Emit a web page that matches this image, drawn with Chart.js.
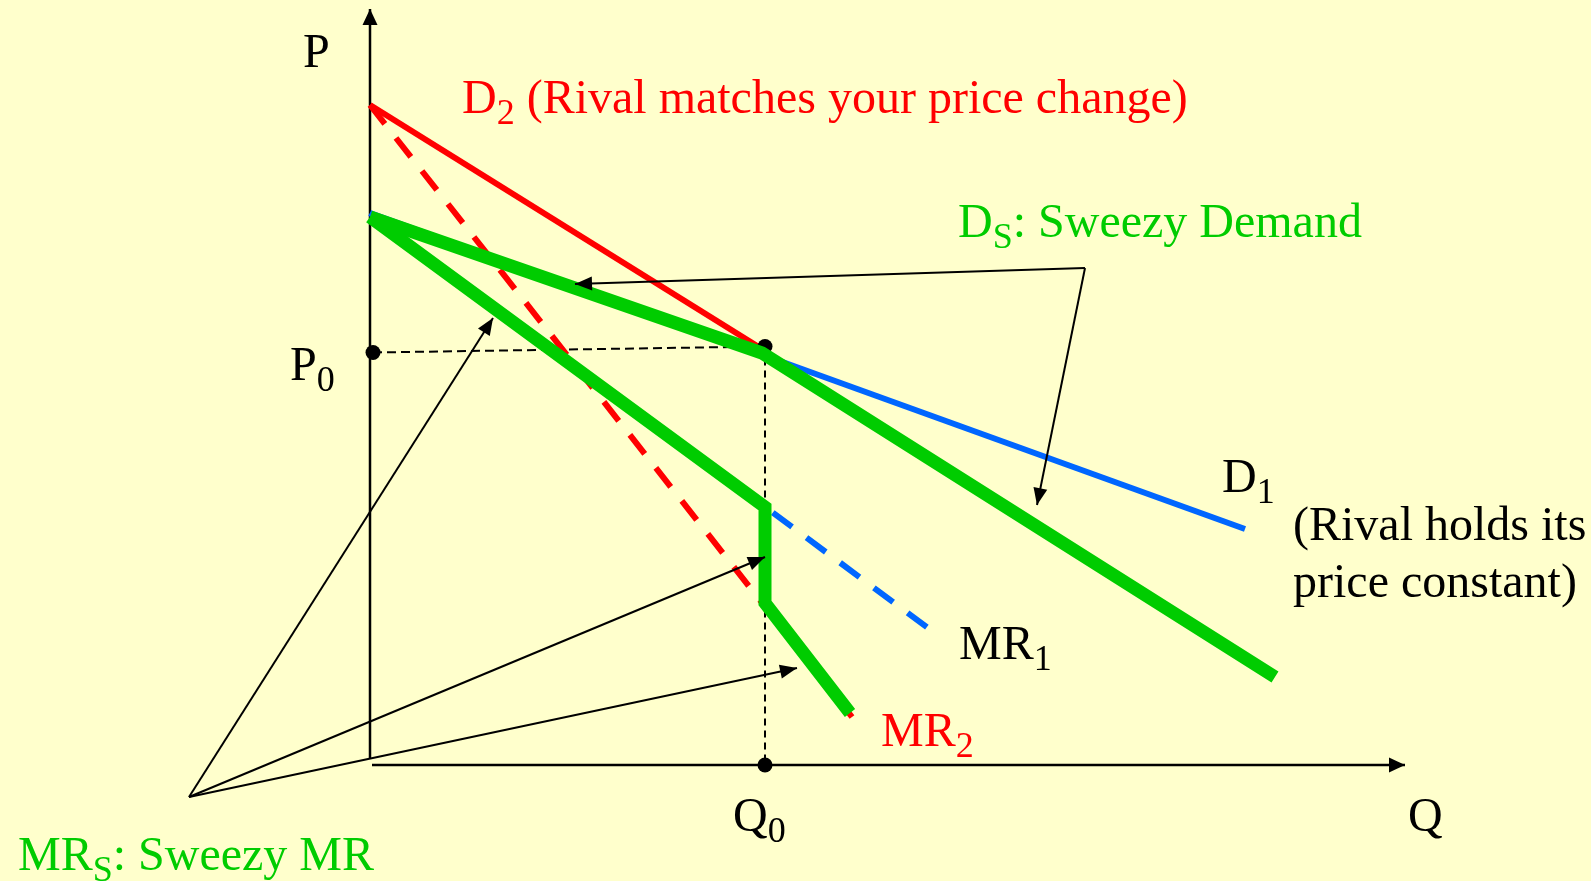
<!DOCTYPE html>
<html>
<head>
<meta charset="utf-8">
<title>Sweezy kinked demand</title>
<script src="https://cdn.jsdelivr.net/npm/chart.js@4.4.0/dist/chart.umd.min.js"></script>
<style>
    html, body { margin: 0; padding: 0; background: #ffffcc; overflow: hidden; }
    canvas { display: block; }
</style>
</head>
<body>
<canvas id="sweezy-chart" width="1591" height="881"></canvas>
<script>
// Quantity (x) and price (y) points, one array per curve
const pAxis = [{x: 0, y: 0.6}, {x: 0, y: 75.6}];
const qAxis = [{x: 0.2, y: 0}, {x: 103.5, y: 0}];
const d2Demand = [{x: 0, y: 66.0}, {x: 39.2, y: 41.6}];
const mr2Curve = [{x: 0, y: 66.0}, {x: 48.2, y: 4.8}];
const d1Demand = [{x: 0, y: 55.2}, {x: 87.5, y: 23.6}];
const mr1Curve = [{x: 0, y: 55.2}, {x: 56.2, y: 13.4}];
const sweezyDemand = [{x: 0, y: 54.8}, {x: 39.2, y: 41.2}, {x: 90.5, y: 8.8}];
const sweezyMR = [{x: 0, y: 54.8}, {x: 39.5, y: 25.8}, {x: 39.5, y: 16.2}, {x: 48.0, y: 5.2}];

// P0 / Q0 guides and the marked points
const p0Guide = [{x: 0.3, y: 41.25}, {x: 39.5, y: 41.85}];
const q0Guide = [{x: 39.5, y: 41.85}, {x: 39.5, y: 0}];
const kinkPoint = [{x: 39.5, y: 41.85}];
const axisPoints = [{x: 0.3, y: 41.25}, {x: 39.5, y: 0}];

// Pointer arrows from the two green captions
const demandPointers = [
    [{x: 71.5, y: 49.7}, {x: 20.5, y: 48.1}],
    [{x: 71.5, y: 49.7}, {x: 66.7, y: 26.0}]
];
const mrPointers = [
    [{x: -18.1, y: -3.2}, {x: 12.3, y: 44.7}],
    [{x: -18.1, y: -3.2}, {x: 39.5, y: 20.8}],
    [{x: -18.1, y: -3.2}, {x: 42.7, y: 9.7}]
];

// Captions: main text, subscript, trailing text, anchored in chart units
const curveLabels = [
    {text: 'P', x: -6.7, y: 69.8, color: '#000000'},
    {text: 'D', sub: '2', tail: ' (Rival matches your price change)', x: 9.2, y: 65.2, color: '#ff0000'},
    {text: 'D', sub: 'S', tail: ': Sweezy Demand', x: 58.8, y: 52.8, color: '#00cc00'},
    {text: 'P', sub: '0', x: -8.0, y: 38.5, color: '#000000'},
    {text: 'D', sub: '1', x: 85.2, y: 27.3, color: '#000000'},
    {text: '(Rival holds its', x: 92.3, y: 22.5, color: '#000000'},
    {text: 'price constant)', x: 92.3, y: 16.8, color: '#000000'},
    {text: 'MR', sub: '1', x: 58.9, y: 10.6, color: '#000000'},
    {text: 'MR', sub: '2', x: 51.1, y: 1.9, color: '#ff0000'},
    {text: 'Q', sub: '0', x: 36.3, y: -6.6, color: '#000000'},
    {text: 'Q', x: 103.8, y: -6.6, color: '#000000'},
    {text: 'MR', sub: 'S', tail: ': Sweezy MR', x: -35.2, y: -10.5, color: '#00cc00'}
];

const RED = '#ff0000';
const BLUE = '#0066ff';
const GREEN = '#00cc00';
const BLACK = '#000000';
const SERIF = '"Liberation Serif", "Times New Roman", serif';

function lineSet(data, color, width, order, extra) {
    return Object.assign({
        data: data,
        showLine: true,
        borderColor: color,
        borderWidth: width,
        pointRadius: 0,
        pointHoverRadius: 0,
        fill: false,
        tension: 0,
        order: order
    }, extra || {});
}

function dotSet(data, order) {
    return {
        data: data,
        showLine: false,
        pointRadius: 7.5,
        pointHoverRadius: 7.5,
        pointBackgroundColor: BLACK,
        pointBorderWidth: 0,
        order: order
    };
}

const datasets = [
    lineSet(pAxis, BLACK, 2.5, 20, {arrowHead: {len: 16, half: 7.5}}),
    lineSet(qAxis, BLACK, 2.5, 20, {arrowHead: {len: 16, half: 7.5}}),
    lineSet(p0Guide, BLACK, 2, 19, {borderDash: [9, 5]}),
    lineSet(q0Guide, BLACK, 2, 19, {borderDash: [7, 5]}),
    lineSet(d2Demand, RED, 6, 18),
    lineSet(mr2Curve, RED, 6, 18, {borderDash: [24, 18]}),
    lineSet(d1Demand, BLUE, 6, 17),
    lineSet(mr1Curve, BLUE, 6, 17, {borderDash: [24, 18], borderDashOffset: 2}),
    dotSet(kinkPoint, 16),
    lineSet(sweezyDemand, GREEN, 13, 15),
    lineSet(sweezyMR, GREEN, 13, 15),
    dotSet(axisPoints, 10)
];
demandPointers.concat(mrPointers).forEach(function(seg) {
    datasets.push(lineSet(seg, BLACK, 2, 12, {arrowHead: {len: 17, half: 7}}));
});

// Filled arrowheads at the last point of flagged lines
const arrowHeads = {
    id: 'arrowHeads',
    afterDatasetsDraw: function(chart) {
        const ctx = chart.ctx;
        const xs = chart.scales.x;
        const ys = chart.scales.y;
        chart.data.datasets.forEach(function(ds) {
            if (!ds.arrowHead) return;
            const n = ds.data.length;
            const x1 = xs.getPixelForValue(ds.data[n - 2].x);
            const y1 = ys.getPixelForValue(ds.data[n - 2].y);
            const x2 = xs.getPixelForValue(ds.data[n - 1].x);
            const y2 = ys.getPixelForValue(ds.data[n - 1].y);
            const a = Math.atan2(y2 - y1, x2 - x1);
            const len = ds.arrowHead.len;
            const half = ds.arrowHead.half;
            const bx = x2 - Math.cos(a) * len;
            const by = y2 - Math.sin(a) * len;
            ctx.save();
            ctx.fillStyle = ds.borderColor;
            ctx.beginPath();
            ctx.moveTo(x2, y2);
            ctx.lineTo(bx - Math.sin(a) * half, by + Math.cos(a) * half);
            ctx.lineTo(bx + Math.sin(a) * half, by - Math.cos(a) * half);
            ctx.closePath();
            ctx.fill();
            ctx.restore();
        });
    }
};

// Captions with subscripts, placed through the chart scales
const captions = {
    id: 'captions',
    afterDraw: function(chart) {
        const ctx = chart.ctx;
        const xs = chart.scales.x;
        const ys = chart.scales.y;
        ctx.save();
        ctx.textAlign = 'left';
        ctx.textBaseline = 'alphabetic';
        curveLabels.forEach(function(lab) {
            let px = xs.getPixelForValue(lab.x);
            const py = ys.getPixelForValue(lab.y);
            ctx.fillStyle = lab.color;
            ctx.font = '48px ' + SERIF;
            ctx.fillText(lab.text, px, py);
            px += ctx.measureText(lab.text).width;
            if (lab.sub) {
                ctx.font = '36px ' + SERIF;
                ctx.fillText(lab.sub, px, py + 11);
                px += ctx.measureText(lab.sub).width;
            }
            if (lab.tail) {
                ctx.font = '48px ' + SERIF;
                ctx.fillText(lab.tail, px, py);
            }
        });
        ctx.restore();
    }
};

new Chart(document.getElementById('sweezy-chart'), {
    type: 'scatter',
    data: { datasets: datasets },
    options: {
        responsive: false,
        animation: false,
        devicePixelRatio: 1,
        events: [],
        layout: { padding: 0, autoPadding: false },
        plugins: {
            legend: { display: false },
            tooltip: { enabled: false }
        },
        scales: {
            x: { type: 'linear', min: -37.0, max: 122.1, display: false },
            y: { type: 'linear', min: -11.6, max: 76.5, display: false }
        }
    },
    plugins: [arrowHeads, captions]
});
</script>
</body>
</html>
